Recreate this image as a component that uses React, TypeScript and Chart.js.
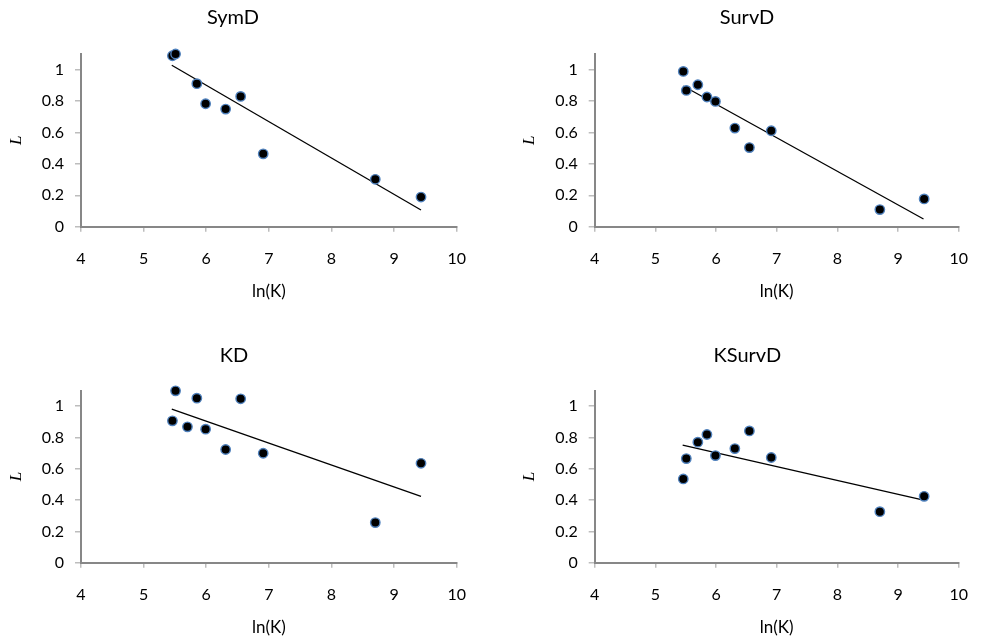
import React, { useEffect, useRef } from "react";
import { Chart, registerables } from "chart.js";

Chart.register(...registerables);

// ---- data ----
const lnK = [5.46, 5.51, 5.70, 5.85, 5.99, 6.31, 6.55, 6.91, 8.70, 9.43];

const symD = [1.089, 1.10, null, 0.911, 0.783, 0.749, 0.83, 0.464, 0.302, 0.189];
const survD = [0.989, 0.868, 0.904, 0.826, 0.798, 0.628, 0.504, 0.611, 0.109, 0.177];
const kD = [0.906, 1.098, 0.868, 1.051, 0.853, 0.723, 1.047, 0.699, 0.256, 0.635];
const kSurvD = [0.535, 0.665, 0.770, 0.819, 0.684, 0.729, 0.842, 0.672, 0.326, 0.424];

// trend line end points (x, y)
const symDTrendX = [5.45, 9.43];
const symDTrendY = [1.028, 0.106];
const survDTrendX = [5.46, 9.42];
const survDTrendY = [0.896, 0.049];
const kDTrendX = [5.45, 9.43];
const kDTrendY = [0.981, 0.424];
const kSurvDTrendX = [5.45, 9.42];
const kSurvDTrendY = [0.751, 0.399];

const panelTitles = ["SymD", "SurvD", "KD", "KSurvD"];
const xTickValues = [4, 5, 6, 7, 8, 9, 10];
const xTickLabels = ["4", "5", "6", "7", "8", "9", "10"];
const yTickValues = [0, 0.2, 0.4, 0.6, 0.8, 1];
const yTickLabels = ["0", "0.2", "0.4", "0.6", "0.8", "1"];
const xAxisTitle = "ln(K)";
const yAxisTitle = "L";

const seriesList = [symD, survD, kD, kSurvD];
const trendXList = [symDTrendX, survDTrendX, kDTrendX, kSurvDTrendX];
const trendYList = [symDTrendY, survDTrendY, kDTrendY, kSurvDTrendY];

// ---- layout (page coordinates) ----
type PanelLayout = {
  cx: number; cy: number; w: number; h: number;
  L: number; R: number; T: number; B: number;
  titleX: number; titleY: number; yTitleX: number; xTitleY: number;
};
const layouts: PanelLayout[] = [
  { cx: 0, cy: 0, w: 493, h: 322, L: 81, R: 456.7, T: 54, B: 226.7, titleX: 233, titleY: 18, yTitleX: 16.7, xTitleY: 292 },
  { cx: 493, cy: 0, w: 493, h: 322, L: 101.7, R: 477.3, T: 54, B: 226.7, titleX: 254, titleY: 18, yTitleX: 36.7, xTitleY: 292 },
  { cx: 0, cy: 322, w: 493, h: 322, L: 81, R: 456.7, T: 68.5, B: 240.7, titleX: 234, titleY: 33.3, yTitleX: 16.7, xTitleY: 306 },
  { cx: 493, cy: 322, w: 493, h: 322, L: 101.7, R: 477.3, T: 68.5, B: 240.7, titleX: 254.3, titleY: 33.3, yTitleX: 36.7, xTitleY: 306 },
];

const FONT = "Lato, 'Open Sans', sans-serif";
const TITLE_LH = 24;

function Panel({ idx }: { idx: number }) {
  const ref = useRef<HTMLCanvasElement | null>(null);
  const lay = layouts[idx];

  useEffect(() => {
    if (!ref.current) return;
    const padL = 2 * lay.titleX - lay.R;
    const padR = lay.w - lay.R;
    const yScaleWidth = lay.L - padL;
    const xScaleHeight = lay.h - lay.B;
    const titleTop = lay.titleY - TITLE_LH / 2;
    const titleBottom = lay.T - titleTop - TITLE_LH;

    const points = lnK
      .map((x, i) => ({ x, y: seriesList[idx][i] }))
      .filter((p) => p.y !== null);
    const trend = trendXList[idx].map((x, i) => ({ x, y: trendYList[idx][i] }));

    const chart = new Chart(ref.current, {
      type: "scatter",
      data: {
        datasets: [
          {
            type: "line",
            data: trend,
            borderColor: "#000000",
            borderWidth: 1.3,
            pointRadius: 0,
            fill: false,
            clip: false,
            order: 2,
          } as any,
          {
            data: points,
            backgroundColor: "#000000",
            borderColor: "#4f81bd",
            borderWidth: 1.4,
            pointRadius: 4.7,
            clip: false,
            order: 1,
          },
        ],
      },
      options: {
        responsive: false,
        animation: false,
        devicePixelRatio: 1,
        layout: { padding: { left: padL, right: padR, top: 0, bottom: 0 } },
        plugins: {
          legend: { display: false },
          tooltip: { enabled: false },
          title: {
            display: true,
            text: panelTitles[idx],
            color: "#000000",
            font: { family: FONT, size: 20, weight: "normal", lineHeight: TITLE_LH + "px" },
            padding: { top: titleTop, bottom: titleBottom },
          },
        },
        scales: {
          x: {
            type: "linear",
            min: 4,
            max: 10,
            afterBuildTicks: (s: any) => {
              s.ticks = xTickValues.map((v) => ({ value: v }));
            },
            afterFit: (s: any) => {
              s.height = xScaleHeight;
            },
            ticks: {
              color: "#000000",
              font: { family: FONT, size: 16 },
              padding: 18,
              maxRotation: 0,
              callback: (_v: any, i: number) => xTickLabels[i],
            },
            grid: {
              drawOnChartArea: false,
              drawTicks: true,
              tickLength: 5,
              color: "#bdbdbd",
              lineWidth: 1.5,
            },
            border: { display: true, color: "#878787", width: 2 },
            title: {
              display: true,
              text: xAxisTitle,
              color: "#000000",
              font: { family: FONT, size: 17, lineHeight: "20px" },
              padding: { top: 0, bottom: lay.h - lay.xTitleY - 10 },
            },
          },
          y: {
            type: "linear",
            min: 0,
            max: 1.1,
            afterBuildTicks: (s: any) => {
              s.ticks = yTickValues.map((v) => ({ value: v }));
            },
            afterFit: (s: any) => {
              s.width = yScaleWidth;
            },
            ticks: {
              color: "#000000",
              font: { family: FONT, size: 16 },
              padding: 11,
              callback: (_v: any, i: number) => yTickLabels[i],
            },
            grid: {
              drawOnChartArea: false,
              drawTicks: true,
              tickLength: 6,
              color: "#bdbdbd",
              lineWidth: 1.5,
            },
            border: { display: true, color: "#878787", width: 2 },
            title: {
              display: true,
              text: yAxisTitle,
              color: "#000000",
              font: { family: "'Liberation Serif', 'DejaVu Serif', serif", size: 17, style: "italic", lineHeight: "10px" },
              padding: { top: Math.max(0, lay.yTitleX - padL - 5), bottom: 0 },
            },
          },
        },
      } as any,
    });
    return () => chart.destroy();
  }, [idx]);

  return (
    <canvas
      ref={ref}
      width={lay.w}
      height={lay.h}
      style={{ position: "absolute", left: lay.cx, top: lay.cy, width: lay.w, height: lay.h }}
    />
  );
}

export default function App() {
  return (
    <div style={{ position: "absolute", left: 0, top: 0, width: 986, height: 644, background: "#ffffff" }}>
      {layouts.map((_, i) => (
        <Panel key={i} idx={i} />
      ))}
    </div>
  );
}
